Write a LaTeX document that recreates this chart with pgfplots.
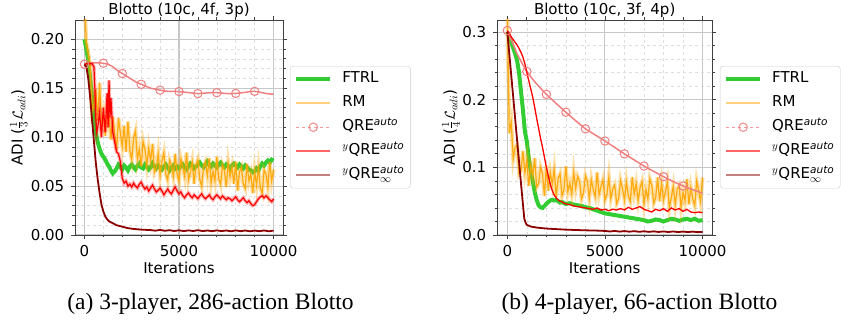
\documentclass[border=0pt]{standalone}
\usepackage{pgfplots}
\pgfplotsset{compat=1.18}
\usepackage{amsmath}
\usepackage{fontspec}
\setmainfont{DejaVu Sans}
\newfontfamily\capfont{Liberation Serif}
\definecolor{ftrl}{RGB}{50,205,50}
\definecolor{rmc}{RGB}{255,165,0}
\definecolor{qrec}{RGB}{240,128,128}
\definecolor{yqre}{RGB}{255,0,0}
\definecolor{yqinf}{RGB}{139,0,0}
\newcommand{\fs}{\fontsize{15}{18}\selectfont}
\pgfplotsset{
  myaxis/.style={
    scale only axis,
    height=215pt,
    xmax=10500,
    xtick={0,5000,10000},
    minor x tick num=4,
    minor y tick num=4,
    scaled x ticks=false, scaled y ticks=false,
    grid=both,
    major grid style={black!22, line width=1.1pt},
    minor grid style={black!13, dashed, line width=0.6pt},
    axis line style={black!75, line width=0.9pt},
    tick align=outside,
    major tick length=4pt, minor tick length=2.5pt,
    tick style={black!75, line width=0.8pt},
    tick label style={font=\fs},
    /pgf/number format/assume math mode=true,
    xticklabel style={/pgf/number format/1000 sep={}, yshift=-3pt},
    yticklabel style={xshift=-3.3pt},
    label style={font=\fs},
    xlabel={Iterations},
    xlabel style={at={(axis description cs:0.5,-0.153)}, anchor=center},
    legend image code/.code={\draw[mark repeat=2,mark phase=2,##1] plot coordinates {(0pt,0pt)(17pt,0pt)(34pt,0pt)};},
    legend style={font=\fs, anchor=north west, draw=black!20, rounded corners=3pt,
      fill=white, inner xsep=4pt, inner ysep=1pt, column sep=8pt,
      nodes={inner xsep=2pt, inner ysep=3.5pt, text height=12pt, text depth=5pt}},
    legend cell align=left,
  }
}
\begin{document}
\begin{tikzpicture}[x=1pt,y=1pt]
\path[use as bounding box] (0,0) rectangle (841,323);
% ---------------- left ----------------
\begin{axis}[myaxis, at={(75pt,88pt)}, anchor=south west, width=208pt,
  xmin=-500,
  ymin=0, ymax=0.2197, ytick={0,0.05,0.1,0.15,0.2},
  yticklabel style={/pgf/number format/.cd, fixed, fixed zerofill, precision=2},
  ylabel={ADI ($\frac{1}{3}\mathcal{L}_{adi}$)},
  ylabel style={at={(axis description cs:-0.27,0.5)}, anchor=center},
  legend style={at={(axis description cs:1.034,0.786)}},
]
\addlegendimage{ftrl, line width=4pt}\addlegendentry{FTRL}
\addlegendimage{rmc, opacity=0.5, line width=1.5pt}\addlegendentry{RM}
\addlegendimage{qrec, opacity=0.8, dashed, line width=1.2pt, mark=o, mark size=4.2pt, mark options={solid, fill=white}}\addlegendentry{QRE$^{\text{\itshape auto}}$}
\addlegendimage{yqre, opacity=0.6, line width=1.5pt}\addlegendentry{$^{y}$QRE$^{\text{\itshape auto}}$}
\addlegendimage{yqinf, opacity=0.5, line width=1.5pt}\addlegendentry{$^{y}$QRE$^{\text{\itshape auto}}_{\infty}$}
% FTRL
\addplot[ftrl, line width=4pt, forget plot] coordinates {
(0,0.200)(100,0.190)(200,0.178)(300,0.160)(400,0.140)(500,0.122)(600,0.105)(700,0.095)(800,0.088)(900,0.083)
(1000,0.080)(1100,0.077)(1200,0.073)(1300,0.070)(1400,0.066)(1500,0.063)(1600,0.065)(1700,0.068)(1800,0.072)(1900,0.070)
(2000,0.067)(2100,0.071)(2200,0.069)(2300,0.066)(2400,0.070)(2500,0.072)(2600,0.069)(2700,0.067)(2800,0.071)(2900,0.073)
(3000,0.069)(3100,0.068)(3200,0.072)(3300,0.070)(3400,0.067)(3500,0.069)(3600,0.073)(3700,0.070)(3800,0.068)(3900,0.071)
(4000,0.069)(4100,0.067)(4200,0.070)(4300,0.072)(4400,0.069)(4500,0.066)(4600,0.069)(4700,0.071)(4800,0.068)(4900,0.070)
(5000,0.068)(5100,0.070)(5200,0.072)(5300,0.069)(5400,0.067)(5500,0.070)(5600,0.073)(5700,0.071)(5800,0.068)(5900,0.070)
(6000,0.072)(6100,0.074)(6200,0.071)(6300,0.069)(6400,0.072)(6500,0.075)(6600,0.072)(6700,0.070)(6800,0.073)(6900,0.071)
(7000,0.069)(7100,0.072)(7200,0.074)(7300,0.071)(7400,0.069)(7500,0.072)(7600,0.070)(7700,0.068)(7800,0.071)(7900,0.073)
(8000,0.071)(8100,0.069)(8200,0.072)(8300,0.070)(8400,0.068)(8500,0.071)(8600,0.069)(8700,0.067)(8800,0.066)(8900,0.064)
(9000,0.065)(9100,0.068)(9200,0.066)(9300,0.070)(9400,0.073)(9500,0.071)(9600,0.074)(9700,0.076)(9800,0.074)(9900,0.077)(10000,0.076)};
% RM
\pgfplotstableread{
x y
0 0.240
100 0.1965
200 0.186
300 0.1725
400 0.1262
500 0.1339
600 0.1491
700 0.1164
800 0.1556
900 0.1138
1000 0.1236
1100 0.1012
1200 0.128
1300 0.1212
1400 0.0976
1500 0.1208
1600 0.1032
1700 0.0868
1800 0.1196
1900 0.1044
2000 0.0904
2100 0.1117
2200 0.085
2300 0.1159
2400 0.0868
2500 0.0769
2600 0.0994
2700 0.1063
2800 0.0772
2900 0.0877
3000 0.070
3100 0.0957
3200 0.0874
3300 0.0711
3400 0.0888
3500 0.0755
3600 0.0932
3700 0.0639
3800 0.0686
3900 0.0833
4000 0.061
4100 0.0755
4200 0.084
4300 0.0625
4400 0.056
4500 0.0765
4600 0.071
4700 0.0595
4800 0.083
4900 0.0625
5000 0.055
5100 0.0778
5200 0.0696
5300 0.0594
5400 0.0842
5500 0.056
5600 0.0638
5700 0.0746
5800 0.0524
5900 0.0712
6000 0.077
6100 0.0569
6200 0.0498
6300 0.0697
6400 0.0746
6500 0.0605
6600 0.0784
6700 0.0533
6800 0.0652
6900 0.0551
7000 0.080
7100 0.0578
7200 0.0516
7300 0.0714
7400 0.0662
7500 0.049
7600 0.0738
7700 0.0596
7800 0.0694
7900 0.0522
8000 0.075
8100 0.0453
8200 0.0646
8300 0.0689
8400 0.0522
8500 0.0475
8600 0.0728
8700 0.0551
8800 0.0624
8900 0.0427
9000 0.065
9100 0.0507
9200 0.0684
9300 0.0481
9400 0.0428
9500 0.0665
9600 0.0622
9700 0.0489
9800 0.0746
9900 0.0553
10000 0.067
}\rmleft
\addplot[rmc, line width=4pt, opacity=0.35, forget plot] table {\rmleft};
\addplot[rmc, line width=1.2pt, opacity=0.9, forget plot] table {\rmleft};
% QRE auto
\addplot[qrec, line width=1.5pt, forget plot] coordinates {
(0,0.1745)(250,0.1755)(500,0.176)(750,0.176)(1000,0.1755)(1250,0.1745)(1500,0.172)(1750,0.168)(2000,0.165)(2250,0.162)
(2500,0.159)(2750,0.156)(3000,0.154)(3250,0.152)(3500,0.150)(3750,0.149)(4000,0.148)(4250,0.147)(4500,0.1468)(4750,0.1467)
(5000,0.1466)(5250,0.146)(5500,0.1455)(5750,0.145)(6000,0.1445)(6250,0.1448)(6500,0.1452)(6750,0.1455)(7000,0.1454)(7250,0.145)
(7500,0.1446)(7750,0.1445)(8000,0.1447)(8250,0.1452)(8500,0.1458)(8750,0.1465)(9000,0.1468)(9250,0.146)(9500,0.145)(9750,0.1442)(10000,0.1438)};
\addplot[only marks, mark=o, mark size=4.2pt, mark options={draw=qrec, fill=white, line width=1pt}, forget plot] coordinates {
(0,0.1745)(1000,0.1755)(2000,0.165)(3000,0.154)(4000,0.148)(5000,0.1466)(6000,0.1445)(7000,0.1454)(8000,0.1447)(9000,0.1468)};
% yQRE auto
\pgfplotstableread{
x y
0 0.174
100 0.175
200 0.175
300 0.175
400 0.175
500 0.172
550 0.150
600 0.120
650 0.105
700 0.110
800 0.125
900 0.100
1000 0.130
1100 0.105
1200 0.145
1250 0.110
1300 0.158
1350 0.120
1400 0.140
1500 0.105
1600 0.095
1700 0.085
1800 0.083
1900 0.075
2000 0.058
2100 0.053
2200 0.055
2300 0.050
2400 0.052
2500 0.049
2600 0.053
2700 0.050
2800 0.048
2900 0.052
3000 0.054
3100 0.050
3200 0.047
3300 0.049
3400 0.045
3500 0.048
3600 0.051
3700 0.047
3800 0.044
3900 0.046
4000 0.048
4100 0.045
4200 0.041
4300 0.044
4400 0.047
4500 0.044
4600 0.042
4700 0.046
4800 0.049
4900 0.045
5000 0.042
5100 0.044
5200 0.040
5300 0.038
5400 0.041
5500 0.043
5600 0.040
5700 0.038
5800 0.041
5900 0.039
6000 0.037
6100 0.040
6200 0.042
6300 0.039
6400 0.037
6500 0.039
6600 0.041
6700 0.038
6800 0.036
6900 0.039
7000 0.041
7100 0.039
7200 0.037
7300 0.040
7400 0.038
7500 0.036
7600 0.038
7700 0.037
7800 0.035
7900 0.037
8000 0.039
8100 0.036
8200 0.034
8300 0.036
8400 0.038
8500 0.035
8600 0.033
8700 0.035
8800 0.032
8900 0.030
9000 0.031
9100 0.034
9200 0.037
9300 0.039
9400 0.040
9500 0.038
9600 0.040
9700 0.038
9800 0.036
9900 0.034
10000 0.037
}\yqleft
\addplot[yqre, line width=3.5pt, opacity=0.3, forget plot] table {\yqleft};
\addplot[yqre, line width=1.2pt, forget plot] table {\yqleft};
% yQRE inf
\addplot[yqinf, line width=1.8pt, forget plot] coordinates {
(0,0.174)(100,0.172)(200,0.160)(300,0.141)(400,0.118)(500,0.096)(600,0.074)(700,0.057)(800,0.043)(900,0.031)
(1000,0.024)(1100,0.019)(1200,0.016)(1300,0.014)(1500,0.012)(1700,0.010)(2000,0.0085)(2300,0.007)(2600,0.0062)(3000,0.0055)
(3500,0.0050)(3750,0.0044)(4000,0.0052)(4250,0.0043)(4500,0.0049)(4750,0.0041)(5000,0.0048)(5250,0.0040)(5500,0.0047)(5750,0.0041)
(6000,0.0049)(6250,0.0040)(6500,0.0046)(6750,0.0039)(7000,0.0047)(7250,0.0040)(7500,0.0046)(7750,0.0038)(8000,0.0047)(8250,0.0039)
(8500,0.0046)(8750,0.0038)(9000,0.0045)(9250,0.0039)(9500,0.0046)(9750,0.0038)(10000,0.0045)};
\end{axis}
% ---------------- right ----------------
\begin{axis}[myaxis, at={(497pt,88pt)}, anchor=south west, width=215.3pt,
  xmin=-530,
  ymin=0, ymax=0.318, ytick={0,0.1,0.2,0.3},
  yticklabel style={/pgf/number format/.cd, fixed, fixed zerofill, precision=1},
  ylabel={ADI ($\frac{1}{4}\mathcal{L}_{adi}$)},
  ylabel style={at={(axis description cs:-0.214,0.5)}, anchor=center},
  legend style={at={(axis description cs:1.0357,0.786)}},
]
\addlegendimage{ftrl, line width=4pt}\addlegendentry{FTRL}
\addlegendimage{rmc, opacity=0.5, line width=1.5pt}\addlegendentry{RM}
\addlegendimage{qrec, opacity=0.8, dashed, line width=1.2pt, mark=o, mark size=4.2pt, mark options={solid, fill=white}}\addlegendentry{QRE$^{\text{\itshape auto}}$}
\addlegendimage{yqre, opacity=0.6, line width=1.5pt}\addlegendentry{$^{y}$QRE$^{\text{\itshape auto}}$}
\addlegendimage{yqinf, opacity=0.5, line width=1.5pt}\addlegendentry{$^{y}$QRE$^{\text{\itshape auto}}_{\infty}$}
% FTRL
\addplot[ftrl, line width=4pt, forget plot] coordinates {
(0,0.300)(200,0.285)(400,0.268)(500,0.258)(600,0.240)(700,0.212)(800,0.185)(900,0.153)(1000,0.138)(1100,0.113)
(1200,0.095)(1300,0.080)(1400,0.064)(1500,0.052)(1600,0.044)(1700,0.041)(1800,0.040)(1900,0.043)(2000,0.046)(2100,0.049)
(2200,0.051)(2300,0.052)(2400,0.051)(2500,0.052)(2600,0.050)(2700,0.048)(2800,0.049)(2900,0.047)(3000,0.046)(3200,0.047)
(3400,0.045)(3600,0.044)(3800,0.043)(4000,0.041)(4200,0.040)(4400,0.038)(4600,0.036)(4800,0.034)(5000,0.032)(5200,0.031)
(5400,0.030)(5600,0.029)(5800,0.028)(6000,0.027)(6200,0.026)(6400,0.025)(6600,0.024)(6800,0.023)(7000,0.022)(7200,0.020)
(7400,0.021)(7600,0.023)(7800,0.022)(8000,0.020)(8200,0.022)(8400,0.024)(8600,0.023)(8800,0.021)(9000,0.023)(9200,0.024)
(9400,0.022)(9600,0.024)(9800,0.021)(10000,0.022)};
% RM
\pgfplotstableread{
x y
0 0.330
100 0.1504
200 0.1674
300 0.1124
400 0.1298
500 0.1328
600 0.091
700 0.0956
800 0.1242
900 0.092
1000 0.111
1100 0.0729
1200 0.102
1300 0.0879
1400 0.1138
1500 0.0709
1600 0.076
1700 0.1003
1800 0.091
1900 0.0577
2000 0.1028
2100 0.0654
2200 0.092
2300 0.0754
2400 0.0972
2500 0.0566
2600 0.0832
2700 0.0906
2800 0.058
2900 0.067
3000 0.1016
3100 0.0639
3200 0.0765
3300 0.0605
3400 0.0926
3500 0.0688
3600 0.0866
3700 0.0797
3800 0.0533
3900 0.062
4000 0.0876
4100 0.0793
4200 0.0541
4300 0.0822
4400 0.0674
4500 0.0565
4600 0.0924
4700 0.0594
4800 0.0719
4900 0.0818
5000 0.0514
5100 0.0601
5200 0.0857
5300 0.0541
5400 0.068
5500 0.0741
5600 0.0464
5700 0.0538
5800 0.0807
5900 0.0686
6000 0.0517
6100 0.0787
6200 0.0576
6300 0.0495
6400 0.0856
6500 0.0606
6600 0.0759
6700 0.0509
6800 0.0701
6900 0.0789
7000 0.0465
7100 0.0669
7200 0.0535
7300 0.083
7400 0.0735
7500 0.0471
7600 0.0558
7700 0.0853
7800 0.0498
7900 0.0767
8000 0.0516
8100 0.0643
8200 0.0783
8300 0.0403
8400 0.0556
8500 0.0722
8600 0.0446
8700 0.0677
8800 0.0726
8900 0.0411
9000 0.0629
9100 0.0501
9200 0.0828
9300 0.0453
9400 0.0702
9500 0.0535
9600 0.0433
9700 0.0799
9800 0.0658
9900 0.0491
10000 0.085
}\rmright
\addplot[rmc, line width=4pt, opacity=0.35, forget plot] table {\rmright};
\addplot[rmc, line width=1.2pt, opacity=0.9, forget plot] table {\rmright};
% QRE auto
\addplot[qrec, line width=1.5pt, forget plot] coordinates {
(0,0.3025)(250,0.285)(500,0.268)(750,0.254)(1000,0.2418)(1250,0.232)(1500,0.2235)(1750,0.2155)(2000,0.208)(2500,0.1945)
(3000,0.1816)(3500,0.169)(4000,0.157)(4500,0.148)(5000,0.139)(5500,0.1295)(6000,0.120)(6500,0.111)(7000,0.102)(7500,0.094)
(8000,0.0863)(8500,0.079)(9000,0.0725)(9500,0.067)(10000,0.0617)};
\addplot[only marks, mark=o, mark size=4.2pt, mark options={draw=qrec, fill=white, line width=1pt}, forget plot] coordinates {
(0,0.3025)(1000,0.2418)(2000,0.208)(3000,0.1816)(4000,0.157)(5000,0.139)(6000,0.120)(7000,0.102)(8000,0.0863)(9000,0.0725)};
% yQRE auto
\addplot[yqre, line width=1.3pt, forget plot] coordinates {
(0,0.302)(100,0.298)(200,0.293)(300,0.289)(400,0.285)(500,0.281)(600,0.276)(700,0.270)(800,0.263)(900,0.253)
(1000,0.240)(1100,0.228)(1200,0.216)(1300,0.204)(1400,0.189)(1500,0.173)(1600,0.158)(1700,0.143)(1800,0.130)(1900,0.115)
(2000,0.100)(2100,0.087)(2200,0.075)(2300,0.066)(2400,0.059)(2500,0.055)(2600,0.052)(2700,0.050)(2800,0.049)(2900,0.047)
(3000,0.046)(3200,0.045)(3400,0.043)(3600,0.042)(3800,0.041)(4000,0.040)(4200,0.039)(4400,0.038)(4600,0.040)(4800,0.037)
(5000,0.038)(5200,0.036)(5400,0.038)(5600,0.037)(5800,0.039)(6000,0.037)(6200,0.041)(6400,0.038)(6600,0.040)(6800,0.042)
(7000,0.038)(7200,0.036)(7400,0.034)(7600,0.038)(7800,0.036)(8000,0.039)(8200,0.035)(8400,0.040)(8600,0.037)(8800,0.039)
(9000,0.035)(9200,0.038)(9400,0.034)(9600,0.033)(9800,0.034)(10000,0.033)};
% yQRE inf
\addplot[yqinf, line width=1.8pt, forget plot] coordinates {
(0,0.300)(100,0.268)(200,0.236)(300,0.204)(400,0.172)(500,0.140)(600,0.108)(700,0.076)(800,0.045)(870,0.024)
(950,0.017)(1000,0.015)(1200,0.0125)(1500,0.011)(2000,0.0095)(2500,0.0087)(3000,0.0079)(3500,0.0074)(4000,0.0069)(4500,0.0066)
(5000,0.0060)(5250,0.0052)(5500,0.0060)(5750,0.0050)(6000,0.0058)(6250,0.0049)(6500,0.0057)(6750,0.0047)(7000,0.0055)(7250,0.0046)
(7500,0.0054)(7750,0.0045)(8000,0.0053)(8250,0.0044)(8500,0.0052)(8750,0.0043)(9000,0.0051)(9250,0.0043)(9500,0.0050)(9750,0.0042)(10000,0.0046)};
\end{axis}
\node[font=\fs, anchor=base] at (179,308.5) {Blotto (10c, 4f, 3p)};
\node[font=\fs, anchor=base] at (604.7,308.5) {Blotto (10c, 3f, 4p)};
\node[font=\capfont\fontsize{23.5}{28}\selectfont, anchor=base] at (210.5,13) {(a) 3-player, 286-action Blotto};
\node[font=\capfont\fontsize{23.5}{28}\selectfont, anchor=base] at (639.5,13) {(b) 4-player, 66-action Blotto};
\end{tikzpicture}
\end{document}
